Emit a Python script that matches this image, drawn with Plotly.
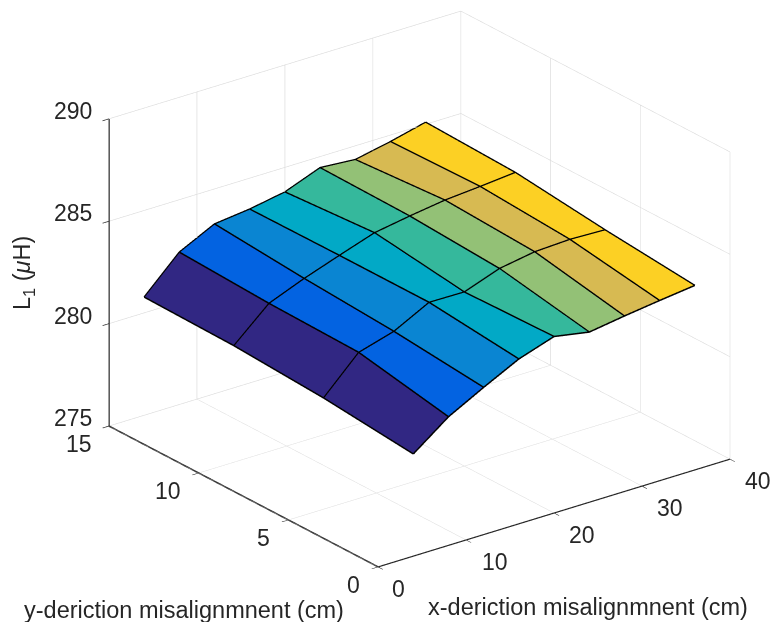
import plotly.graph_objects as go

x_vals = [4, 8, 12, 16, 20, 24, 28, 32, 36]
y_vals = [0, 5, 10, 15]
z_y0 = [279.97, 281.26, 282.17, 283.03, 283.60, 283.29, 283.55, 283.78, 283.99]
z_y5 = [280.41, 282.11, 282.61, 283.50, 283.48, 284.10, 284.39, 284.47, 284.41]
z_y10 = [280.67, 282.21, 282.90, 283.50, 284.08, 284.37, 284.62, 284.76, 284.92]
z_y15 = [280.75, 282.42, 283.27, 283.47, 283.78, 284.44, 284.31, 284.66, 285.08]
z_rows = [z_y0, z_y5, z_y10, z_y15]
band_colors = ["#312783", "#0363E1", "#0A85D2", "#02A9C6", "#35B89C", "#93C176", "#D7BA52", "#FCD024"]
x_ticks = [0, 10, 20, 30, 40]
y_ticks = [0, 5, 10, 15]
z_ticks = [275, 280, 285, 290]
x_shift = [21, 29, 28, 28, 28]
y_shift = [-24, -25, -30, -30]
TXT = "#262626"
FONT = "Liberation Sans"
SIZE = 23

nx, ny = len(x_vals), len(y_vals)
vx, vy, vz, ti, tj, tk, fc = [], [], [], [], [], [], []
for j in range(ny):
    for i in range(nx):
        vx.append(x_vals[i]); vy.append(y_vals[j]); vz.append(z_rows[j][i])
for j in range(ny - 1):
    for i in range(nx - 1):
        a = j * nx + i
        b = a + 1
        c = a + nx
        d = c + 1
        ti += [a, a]; tj += [b, d]; tk += [d, c]
        fc += [band_colors[i], band_colors[i]]

fig = go.Figure()
fig.add_trace(go.Mesh3d(x=vx, y=vy, z=vz, i=ti, j=tj, k=tk, facecolor=fc, flatshading=True,
                        lighting=dict(ambient=1, diffuse=0, specular=0, roughness=1, fresnel=0),
                        hoverinfo="skip", showscale=False))
lx, ly, lz = [], [], []
lift = 0.02
for j in range(ny):
    lx += x_vals + [None]; ly += [y_vals[j]] * nx + [None]; lz += [v + lift for v in z_rows[j]] + [None]
for i in range(nx):
    lx += [x_vals[i]] * ny + [None]; ly += y_vals + [None]; lz += [z_rows[j][i] + lift for j in range(ny)] + [None]
fig.add_trace(go.Scatter3d(x=lx, y=ly, z=lz, mode="lines", line=dict(color="#000000", width=3),
                           hoverinfo="skip", showlegend=False))
x0, x1 = x_ticks[0], x_ticks[-1]
y0, y1 = y_ticks[0], y_ticks[-1]
z0, z1 = z_ticks[0], z_ticks[-1]
fig.add_trace(go.Scatter3d(x=[x0, x0, x0], y=[y0, y1, y1], z=[z0, z0, z1], mode="lines",
                           line=dict(color="#262626", width=3), hoverinfo="skip", showlegend=False))

def ax(rng, ticks, line):
    return dict(range=rng, tickvals=ticks, ticktext=[str(t) for t in ticks], title=dict(text=""),
                showbackground=False, showgrid=True, gridcolor="#d8d8d8", gridwidth=1.2,
                showline=line, linecolor="#262626", linewidth=2.5, zeroline=False, showspikes=False,
                ticks="outside", ticklen=8, tickwidth=1.5, tickcolor="#262626", showticklabels=False)

lab = dict(showarrow=False, xanchor="center", yanchor="middle", font=dict(family=FONT, size=SIZE, color=TXT))
scene_ann = []
for t, s in zip(x_ticks, x_shift):
    scene_ann.append(dict(x=t, y=0, z=275, text=str(t), xshift=s, yshift=-21.5, **lab))
for t, s in zip(y_ticks, y_shift):
    scene_ann.append(dict(x=0, y=t, z=275, text=str(t), xshift=s, yshift=-18, **lab))
for t in z_ticks:
    scene_ann.append(dict(x=0, y=15, z=t, text=str(t), xshift=-36, yshift=8, **lab))

fig.update_layout(
    width=773, height=622, margin=dict(l=0, r=0, t=0, b=0), paper_bgcolor="white", showlegend=False,
    scene=dict(
        domain=dict(x=[0.085, 1.0], y=[0.07, 1.0]),
        xaxis=ax([0, 40], x_ticks, True), yaxis=ax([0, 15], y_ticks, False), zaxis=ax([275, 290], z_ticks, False),
        aspectmode="manual", aspectratio=dict(x=1.533, y=1.533, z=1.16),
        camera=dict(projection=dict(type="orthographic"), up=dict(x=0, y=0, z=1),
                    center=dict(x=0, y=0, z=0),
                    eye=dict(x=-0.5566 * 2, y=-0.7277 * 2, z=0.4002 * 2)),
        annotations=scene_ann,
    ),
    annotations=[
        dict(text="y-deriction misalignmnent (cm)", x=184 / 773, y=1 - 610 / 622, xref="paper", yref="paper",
             showarrow=False, xanchor="center", yanchor="middle", font=dict(family=FONT, size=23.5, color=TXT)),
        dict(text="x-deriction misalignmnent (cm)", x=588 / 773, y=1 - 607 / 622, xref="paper", yref="paper",
             showarrow=False, xanchor="center", yanchor="middle", font=dict(family=FONT, size=23.5, color=TXT)),
        dict(text="L<sub>1</sub> (<i>μ</i>H)", x=24 / 773, y=1 - 273 / 622, xref="paper", yref="paper",
             showarrow=False, xanchor="center", yanchor="middle", textangle=-90,
             font=dict(family=FONT, size=23.5, color=TXT)),
    ],
)
fig.write_html("out.html", post_script="document.body.style.margin='0';", config={"displayModeBar": False})
